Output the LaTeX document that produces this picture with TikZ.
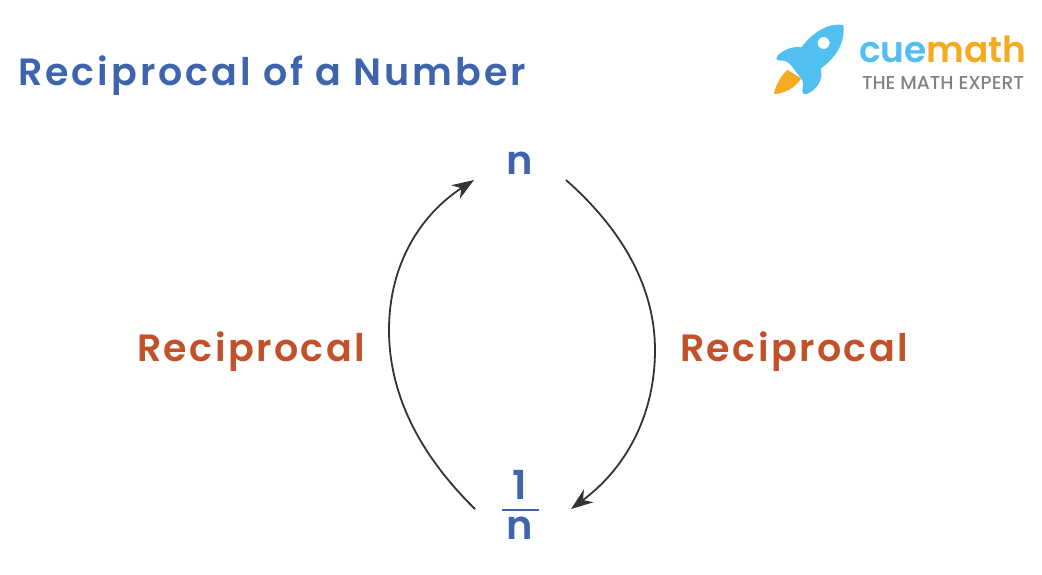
\documentclass[tikz,border=0pt]{standalone}
\usepackage{fontspec}
\usetikzlibrary{arrows.meta}
\setmainfont{Poppins}
\newfontfamily\spaced[LetterSpace=8]{Poppins SemiBold}
\newfontfamily\spacedb[LetterSpace=6.5]{Poppins SemiBold}
\newfontfamily\plain{Poppins SemiBold}
\newfontfamily\tagfont{Poppins Medium}
\definecolor{titleblue}{HTML}{3D64AC}
\definecolor{recip}{HTML}{C2512A}
\definecolor{linegrey}{HTML}{333333}
\definecolor{rocketblue}{HTML}{51BFEF}
\definecolor{flame}{HTML}{F4AB1F}
\definecolor{taggrey}{HTML}{808285}
\tikzset{
  x=1pt,y=-1pt,
  arc/.style={draw=linegrey,line width=1.8pt,-{Stealth[length=22pt,width=16pt,inset=7pt]}},
  lbl/.style={anchor=base west,inner sep=0pt,outer sep=0pt},
  anchorbox/.style={inner sep=0pt,outer sep=0pt},
}
\begin{document}
\begin{tikzpicture}
\useasboundingbox (0,0) rectangle (1042,574);
\node[lbl,text=titleblue,font=\spaced\fontsize{38}{38}\selectfont] (title) at (18,85) {Reciprocal of a Number};
\node[anchorbox,minimum width=92pt,minimum height=34pt,text=titleblue,font=\plain\fontsize{40}{40}\selectfont] (n) at (520,163) {n};
\node[anchorbox,minimum width=96pt,minimum height=2pt] (frac) at (523,509) {};
\draw[titleblue,line width=2pt] (502,510) -- (539,510);
\node[anchorbox,text=titleblue,font=\plain\fontsize{40}{40}\selectfont] (one) at (520,485) {1};
\node[anchorbox,text=titleblue,font=\plain\fontsize{40}{40}\selectfont] (den) at (520,528) {n};
\node[lbl,text=recip,font=\spacedb\fontsize{38}{38}\selectfont] (rl) at (137,361) {Reciprocal};
\node[lbl,text=recip,font=\spacedb\fontsize{38}{38}\selectfont] (rr) at (680,361) {Reciprocal};
\draw[arc] (n.south east) .. controls (625,232) and (655,290) .. (655,350) .. controls (655,410) and (630,465) .. (frac.east);
\draw[arc] (frac.west) .. controls (420,455) and (389,395) .. (389,330) .. controls (389,265) and (420,215) .. (n.south west);
% logo
\begin{scope}[shift={(760,10)},x=0.3333pt,y=-0.3333pt]
\fill[flame] (82,180) .. controls (60,200) and (45,230) .. (42,252) .. controls (70,252) and (105,235) .. (124,205) -- cycle;
\fill[rocketblue,even odd rule] (250,45) .. controls (205,38) and (160,65) .. (124,112)
  .. controls (100,108) and (70,118) .. (52,138) .. controls (45,148) and (55,154) .. (62,152)
  .. controls (75,150) and (88,158) .. (95,168) -- (116,196) .. controls (128,208) and (132,218) .. (128,234)
  .. controls (125,248) and (130,256) .. (140,252)
  .. controls (170,240) and (192,208) .. (182,176)
  .. controls (228,142) and (256,100) .. (250,45) -- cycle
  (191,99) circle[radius=18];
\end{scope}
\node[lbl,text=rocketblue,font=\plain\fontsize{36}{36}\selectfont] (cue) at (859,62) {cue};
\node[lbl,text=flame,font=\plain\fontsize{36}{36}\selectfont,anchor=base west] (math) at (cue.base east) {math};
\node[lbl,text=taggrey,font=\tagfont\fontsize{18.7}{18.7}\selectfont] (tag) at (862,89) {THE MATH EXPERT};
\end{tikzpicture}
\end{document}
